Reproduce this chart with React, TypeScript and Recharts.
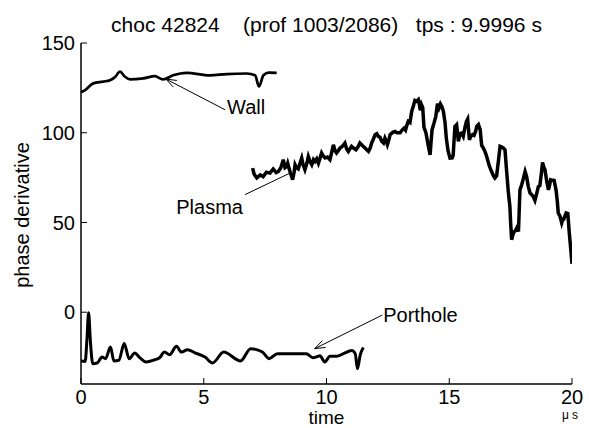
import React from "react";
import { LineChart, Line, XAxis, YAxis, ReferenceLine } from "recharts";

const FONT = '"Liberation Sans", Arial, Helvetica, sans-serif';

// tick labels
const xTicks = [0, 5, 10, 15, 20];
const yTicks = [0, 50, 100, 150];

// Wall
const wallTime = [0, 0.17, 0.5, 0.9, 1.18, 1.38, 1.59, 1.79, 2.0, 2.54, 3.01, 3.34, 3.75, 4.3, 5.25, 5.93, 6.75, 7.09, 7.25, 7.43, 7.65, 7.97];
const wallValue = [122.5, 123.8, 127.5, 128.5, 129.3, 131, 134, 131.2, 129.7, 130.3, 131.5, 129.7, 132, 133.4, 132, 132.7, 133, 132, 125.8, 132, 133.5, 133.4];

// Porthole
const portTime = [0, 0.17, 0.24, 0.31, 0.38, 0.48, 0.66, 0.86, 1.0, 1.2, 1.34, 1.54, 1.76, 1.96, 2.19, 2.37, 2.65, 3.0, 3.2, 3.4, 3.61, 3.89, 4.09, 4.34, 4.64, 5.05, 5.36, 5.81, 6.5, 6.91, 7.39, 7.66, 8.0, 8.76, 9.18, 9.45, 9.6, 9.73, 9.93, 10.14, 10.41, 10.69, 11.03, 11.17, 11.26, 11.37, 11.5];
const portValue = [-27.2, -27.4, -15.7, -0.3, -15.7, -28.7, -28.3, -25, -25.9, -19.4, -27.2, -26.8, -17.5, -25.9, -22.7, -25, -27.7, -26.5, -25.4, -22.2, -23.7, -19, -22.2, -20.9, -22.6, -25, -28.3, -22.2, -27.2, -20.3, -22.2, -25.9, -23.1, -23.1, -23.1, -25.4, -24.8, -24.2, -27.7, -24.6, -24.6, -23.1, -21.3, -23.1, -31.5, -24, -19.7];

// Plasma
const plasmaTime = [
  6.99, 7.05, 7.16, 7.3, 7.42, 7.55, 7.7, 7.83, 7.95, 8.04, 8.14, 8.24, 8.31, 8.38, 8.42, 8.5, 8.57, 8.62, 8.68, 8.72,
  8.78, 8.85, 8.92, 8.99, 9.05, 9.12, 9.2, 9.26, 9.33, 9.4, 9.47, 9.53, 9.6, 9.67, 9.74, 9.8, 9.87, 9.94, 10.04, 10.14,
  10.21, 10.28, 10.35, 10.41, 10.48, 10.55, 10.65, 10.75, 10.82, 10.89, 10.95, 11.02, 11.1, 11.2, 11.28, 11.36, 11.45, 11.57, 11.64, 11.71,
  11.78, 11.84, 11.91, 11.98, 12.05, 12.11, 12.18, 12.25, 12.32, 12.38, 12.44, 12.48, 12.54, 12.59, 12.7, 12.79, 12.87, 12.93, 13.0, 13.08,
  13.16, 13.22, 13.27, 13.33, 13.4, 13.47, 13.54, 13.6, 13.67, 13.74, 13.78, 13.82, 13.87, 13.92, 13.97, 14.05, 14.15, 14.22, 14.26, 14.3,
  14.38, 14.45, 14.52, 14.58, 14.64, 14.7, 14.76, 14.83, 14.88, 14.95, 15.03, 15.12, 15.16, 15.23, 15.3, 15.37, 15.44, 15.5, 15.57, 15.64,
  15.7, 15.75, 15.82, 15.88, 15.95, 16.01, 16.08, 16.12, 16.19, 16.26, 16.32, 16.39, 16.47, 16.53, 16.63, 16.72, 16.8, 16.86, 16.93, 17.0,
  17.07, 17.14, 17.2, 17.27, 17.34, 17.41, 17.47, 17.5, 17.54, 17.6, 17.65, 17.7, 17.75, 17.82, 17.88, 17.95, 18.02, 18.09, 18.15, 18.22,
  18.29, 18.36, 18.42, 18.49, 18.56, 18.63, 18.69, 18.75, 18.8, 18.85, 18.9, 18.97, 19.04, 19.09, 19.13, 19.2, 19.27, 19.35, 19.4, 19.44,
  19.51, 19.58, 19.63, 19.67, 19.76, 19.83, 19.89, 19.95, 20.0,
];
const plasmaValue = [
  80.3, 77, 74.8, 76.5, 75.5, 78, 77.5, 79.8, 77.8, 78.4, 80.5, 85, 80.5, 81.2, 83, 79, 76, 73.8, 78, 82.2,
  80.5, 79.8, 83, 85.9, 82, 79.4, 83, 86.8, 84, 82.2, 85, 84, 85.5, 83, 86, 88.7, 87, 86, 86.5, 85,
  89, 93.3, 90, 88.7, 90, 91.5, 92.5, 94.3, 91, 89.6, 91, 92.4, 91.5, 90.5, 92, 94.3, 93, 91.5, 90.5, 89.6,
  91.5, 94.3, 96.5, 98.9, 99.5, 98, 97.5, 95.2, 94.3, 97, 95, 93.3, 96, 98.9, 100.2, 100.7, 100, 100, 100, 101.5,
  102.6, 101.5, 104, 106.3, 105.7, 111.9, 115, 118, 117.5, 118.4, 116, 112.5, 115.6, 114, 103, 100, 92.4, 87.7, 95, 101.7,
  105.4, 109, 116.2, 113.8, 116, 114.5, 112, 105.4, 97, 90, 85.9, 86, 87.5, 103.5, 104.5, 95.2, 99.5, 99.8, 98, 103,
  106.3, 107.6, 96.1, 98, 98.9, 98.5, 101, 103.5, 104.5, 101.7, 93, 91.5, 89, 86.5, 81.6, 78.5, 76, 74.8, 76, 84,
  92.4, 92, 91.5, 90.5, 78, 66.4, 58.9, 50, 40.4, 43.5, 45, 45.5, 46.9, 45, 68.2, 71, 74.5, 78.4, 75.7, 70,
  66.4, 65.5, 64.5, 62.3, 66, 70, 70.5, 77, 83.5, 81, 79.4, 73, 68.2, 71, 73.8, 73.5, 73.4, 68.2, 62, 55.3,
  53.5, 49.7, 52, 52, 55.3, 55, 44, 35, 27,
];

const toRows = (ts: number[], vs: number[]) => ts.map((t, i) => ({ t, v: vs[i] }));
const wallData = toRows(wallTime, wallValue);
const portData = toRows(portTime, portValue);
const plasmaData = toRows(plasmaTime, plasmaValue);

// annotation: text + line from tail (near text) to head (on curve)
const makeArrow = (label: string, dx: number, dy: number, anchor: string, head: boolean) => (props: any) => {
  const { x1, y1, x2, y2 } = props;
  const ang = Math.atan2(y2 - y1, x2 - x1);
  const L = 11;
  const a1 = ang + Math.PI - 0.35;
  const a2 = ang + Math.PI + 0.35;
  return (
    <g>
      <line x1={x1} y1={y1} x2={x2} y2={y2} stroke="#000" strokeWidth={1} />
      {head && (
        <polyline
          points={`${x2 + L * Math.cos(a1)},${y2 + L * Math.sin(a1)} ${x2},${y2} ${x2 + L * Math.cos(a2)},${y2 + L * Math.sin(a2)}`}
          fill="none"
          stroke="#000"
          strokeWidth={1}
        />
      )}
      <text x={x1 + dx} y={y1 + dy} textAnchor={anchor as any} fontSize={20} fontFamily={FONT} fill="#000">
        {label}
      </text>
    </g>
  );
};

const axisLine = { stroke: "#000", strokeWidth: 1.5 };
const tickLine = { stroke: "#000", strokeWidth: 1 };
const tickStyle = { fill: "#000", fontSize: 20, fontFamily: FONT };

export default function App() {
  return (
    <div style={{ position: "absolute", left: 0, top: 0, width: 589, height: 428, background: "#fff" }}>
      <LineChart width={589} height={428} margin={{ top: 43, right: 17, bottom: 0, left: 0 }}>
        <XAxis
          xAxisId="b"
          type="number"
          dataKey="t"
          domain={[0, 20]}
          ticks={xTicks}
          orientation="bottom"
          height={44}
          tickSize={-6}
          tickMargin={12}
          axisLine={axisLine}
          tickLine={tickLine}
          tick={tickStyle}
          allowDataOverflow
        />
        <XAxis
          xAxisId="top"
          type="number"
          domain={[0, 20]}
          ticks={xTicks}
          orientation="top"
          height={0}
          tickSize={-6}
          axisLine={axisLine}
          tickLine={tickLine}
          tickFormatter={() => ""}
        />
        <YAxis
          yAxisId="l"
          type="number"
          domain={[-40, 150]}
          ticks={yTicks}
          width={81}
          tickSize={-6}
          tickMargin={12}
          axisLine={axisLine}
          tickLine={tickLine}
          tick={tickStyle}
          allowDataOverflow
        />
        <YAxis
          yAxisId="r"
          orientation="right"
          type="number"
          domain={[-40, 150]}
          ticks={yTicks}
          width={0}
          tickSize={-6}
          axisLine={axisLine}
          tickLine={tickLine}
          tickFormatter={() => ""}
        />
        <Line xAxisId="b" yAxisId="l" data={wallData} dataKey="v" type="monotone" stroke="#000" strokeWidth={2.7} dot={false} isAnimationActive={false} />
        <Line xAxisId="b" yAxisId="l" data={portData} dataKey="v" type="monotone" stroke="#000" strokeWidth={3} dot={false} isAnimationActive={false} />
        <Line xAxisId="b" yAxisId="l" data={plasmaData} dataKey="v" type="linear" stroke="#000" strokeWidth={3.5} dot={false} isAnimationActive={false} />
        <ReferenceLine
          xAxisId="b"
          yAxisId="l"
          segment={[{ x: 5.87, y: 112.8 }, { x: 3.46, y: 129.9 }]}
          shape={makeArrow("Wall", 2, 4, "start", true)}
        />
        <ReferenceLine
          xAxisId="b"
          yAxisId="l"
          segment={[{ x: 6.68, y: 65.5 }, { x: 8.51, y: 77.5 }]}
          shape={makeArrow("Plasma", -2, 19, "end", false)}
        />
        <ReferenceLine
          xAxisId="b"
          yAxisId="l"
          segment={[{ x: 12.27, y: -1.6 }, { x: 9.52, y: -20.3 }]}
          shape={makeArrow("Porthole", 1, 7, "start", true)}
        />
      </LineChart>
      <svg width={589} height={428} style={{ position: "absolute", left: 0, top: 0, pointerEvents: "none" }}>
        <text x={326.5} y={32} textAnchor="middle" fontSize={21} fontFamily={FONT} fill="#000" style={{ whiteSpace: "pre" }}>
          {"choc 42824    (prof 1003/2086)   tps : 9.9996 s"}
        </text>
        <text x={326.5} y={424} textAnchor="middle" fontSize={19} fontFamily={FONT} fill="#000">
          time
        </text>
        <text x={570} y={419} textAnchor="middle" fontSize={12} fontFamily={FONT} fill="#000" style={{ whiteSpace: "pre" }}>
          {"μ s"}
        </text>
        <text
          x={0}
          y={0}
          transform="translate(28.5,215) rotate(-90)"
          textAnchor="middle"
          fontSize={20}
          fontFamily={FONT}
          fill="#000"
        >
          phase derivative
        </text>
      </svg>
    </div>
  );
}
